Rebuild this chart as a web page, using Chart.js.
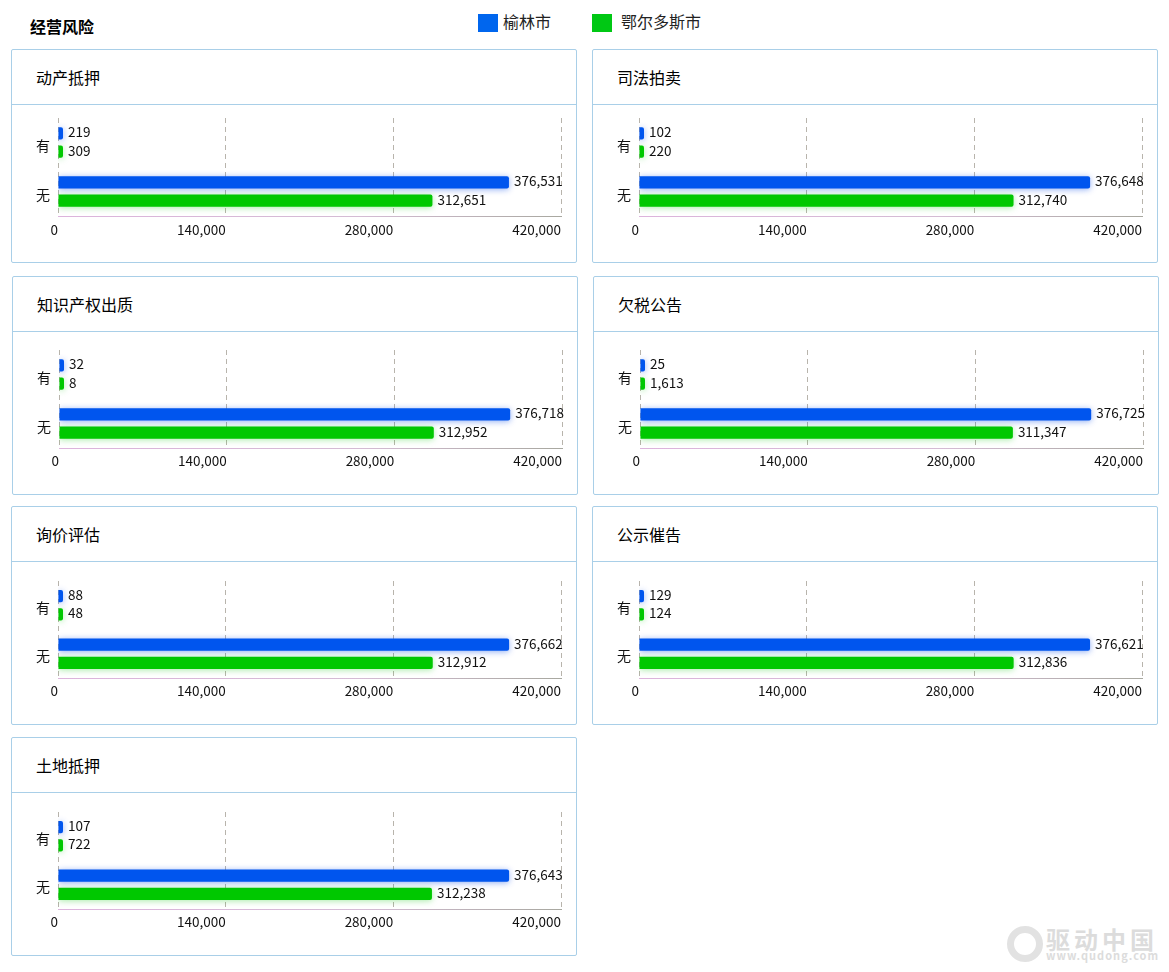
<!DOCTYPE html>
<html lang="zh">
<head>
<meta charset="utf-8">
<title>经营风险</title>
<script src="https://cdn.jsdelivr.net/npm/chart.js@4"></script>
<style>
    html, body { margin: 0; padding: 0; background: #fff; }
    body { width: 1169px; height: 972px; position: relative; overflow: hidden; color: #000;
           font-family: "Noto Sans CJK SC", "Noto Sans", sans-serif; }
    .page-title { position: absolute; left: 30px; top: 14px; font-size: 16px; line-height: 24px; font-weight: 700; }
    .legend-box { position: absolute; top: 14px; width: 20px; height: 18px; }
    .legend-text { position: absolute; top: 9px; font-size: 16px; line-height: 24px; color: #222; }
    .panel { position: absolute; box-sizing: border-box; width: 566px; border: 1px solid #a9cfe8; border-radius: 2px; }
    .panel-title { position: absolute; left: 24px; top: -1px; right: 0; font-size: 16px; line-height: 56px; }
    .panel-line { position: absolute; left: 0; right: 0; top: 54px; height: 1px; background: #a9cfe8; }
    .panel canvas { position: absolute; left: 0; top: 55px; }
    .mark { position: absolute; left: 1046px; top: 927px; color: #dcdcdc; }
    .mark b { display: block; font-size: 24px; line-height: 23px; letter-spacing: 4px; font-weight: 700; }
    .mark span { display: block; font-size: 11px; line-height: 11px; letter-spacing: 1px; font-weight: 700; }
    .mark-ring { position: absolute; left: 1007px; top: 926px; width: 22px; height: 22px; border: 7px solid #e2e2e2; border-radius: 50%; }
</style>
</head>
<body>
<div class="page-title">经营风险</div>
<div class="legend-box" style="left:478px;background:#0066ee"></div>
<div class="legend-text" style="left:503px">榆林市</div>
<div class="legend-box" style="left:592px;background:#00c814"></div>
<div class="legend-text" style="left:621px">鄂尔多斯市</div>
<div id="panels"></div>
<div class="mark-ring"></div>
<div class="mark"><b>驱动中国</b><span>www.qudong.com</span></div>

<script>
    const categories = ['有', '无'];
    const cityNames = ['榆林市', '鄂尔多斯市'];
    const barColors = ['#0055ee', '#00c800'];
    const shadowColors = ['rgba(0, 70, 230, 0.45)', 'rgba(0, 200, 0, 0.35)'];

    // x, y, h = panel box; plotTop / plotBottom = plot area measured from the canvas top
    const panels = [
        { title: '动产抵押', x: 11, y: 49, h: 214, plotTop: 13, plotBottom: 111, tickPad: 6, labelShift: 3, yulin: [219, 376531], ordos: [309, 312651] },
        { title: '司法拍卖', x: 592, y: 49, h: 214, plotTop: 13, plotBottom: 111, tickPad: 6, labelShift: 3, yulin: [102, 376648], ordos: [220, 312740] },
        { title: '知识产权出质', x: 12, y: 276, h: 219, plotTop: 18, plotBottom: 116, tickPad: 5, labelShift: 3, yulin: [32, 376718], ordos: [8, 312952] },
        { title: '欠税公告', x: 593, y: 276, h: 219, plotTop: 18, plotBottom: 116, tickPad: 5, labelShift: 3, yulin: [25, 376725], ordos: [1613, 311347] },
        { title: '询价评估', x: 11, y: 506, h: 219, plotTop: 19, plotBottom: 116, tickPad: 5, labelShift: 2, yulin: [88, 376662], ordos: [48, 312912] },
        { title: '公示催告', x: 592, y: 506, h: 219, plotTop: 19, plotBottom: 116, tickPad: 5, labelShift: 2, yulin: [129, 376621], ordos: [124, 312836] },
        { title: '土地抵押', x: 11, y: 737, h: 219, plotTop: 19, plotBottom: 116, tickPad: 5, labelShift: 2, yulin: [107, 376643], ordos: [722, 312238] }
    ];

    const fontFamily = '"Noto Sans CJK SC", "Noto Sans", sans-serif';

    // Soft glow under the bars
    const barShadow = {
        id: 'barShadow',
        beforeDatasetDraw(chart, args) {
            chart.ctx.save();
            chart.ctx.shadowColor = shadowColors[args.index];
            chart.ctx.shadowBlur = 6;
            chart.ctx.shadowOffsetY = 1;
        },
        afterDatasetDraw(chart) {
            chart.ctx.restore();
        }
    };

    // Value labels at the end of each bar
    const valueLabels = {
        id: 'valueLabels',
        afterDatasetsDraw(chart) {
            const ctx = chart.ctx;
            ctx.save();
            ctx.font = '13.5px ' + fontFamily;
            ctx.fillStyle = '#111';
            ctx.textAlign = 'left';
            ctx.textBaseline = 'middle';
            chart.data.datasets.forEach((dataset, i) => {
                chart.getDatasetMeta(i).data.forEach((bar, j) => {
                    ctx.fillText(dataset.data[j].toLocaleString('en-US'), bar.x + 5, bar.y - 1);
                });
            });
            ctx.restore();
        }
    };

    const container = document.getElementById('panels');

    panels.forEach(panel => {
        const box = document.createElement('div');
        box.className = 'panel';
        box.style.left = panel.x + 'px';
        box.style.top = panel.y + 'px';
        box.style.height = panel.h + 'px';
        box.innerHTML = '<div class="panel-title">' + panel.title + '</div><div class="panel-line"></div>';

        const canvas = document.createElement('canvas');
        const canvasHeight = panel.h - 57;
        canvas.style.width = '564px';
        canvas.style.height = canvasHeight + 'px';
        box.appendChild(canvas);
        container.appendChild(box);

        const ctx = canvas.getContext('2d');
        const axisLine = ctx.createLinearGradient(46, 0, 549, 0);
        axisLine.addColorStop(0, '#dcb4dc');
        axisLine.addColorStop(0.6, '#d4bcd4');
        axisLine.addColorStop(1, '#a8a8a0');

        new Chart(ctx, {
            type: 'bar',
            data: {
                labels: categories,
                datasets: [
                    { label: cityNames[0], data: panel.yulin, backgroundColor: barColors[0] },
                    { label: cityNames[1], data: panel.ordos, backgroundColor: barColors[1] }
                ]
            },
            options: {
                indexAxis: 'y',
                responsive: false,
                animation: false,
                devicePixelRatio: 1,
                layout: { padding: { top: panel.plotTop, right: 15, bottom: 0, left: 0 } },
                datasets: {
                    bar: { categoryPercentage: 0.75, barPercentage: 0.667, borderRadius: 2, minBarLength: 5 }
                },
                scales: {
                    x: {
                        min: 0,
                        max: 420000,
                        afterBuildTicks(scale) {
                            scale.ticks = [0, 140000, 280000, 420000].map(value => ({ value }));
                        },
                        afterFit(scale) { scale.height = canvasHeight - panel.plotBottom; },
                        // border.dash is applied to the grid lines, the axis line stays solid
                        border: { color: axisLine, width: 1, dash: [5, 4] },
                        grid: {
                            color: '#b8b4ac',
                            drawTicks: false,
                            lineWidth: 1
                        },
                        ticks: {
                            align: 'end',
                            maxRotation: 0,
                            padding: panel.tickPad,
                            color: '#111',
                            font: { family: fontFamily, size: 13.5 },
                            callback: value => value.toLocaleString('en-US')
                        }
                    },
                    y: {
                        // Without this the tick label height pushes the plot area down
                        afterFit(scale) {
                            scale.width = 46;
                            scale.paddingTop = 0;
                            scale.paddingBottom = 0;
                        },
                        border: { display: false },
                        grid: { display: false, drawTicks: false },
                        ticks: {
                            padding: 8,
                            labelOffset: panel.labelShift,
                            color: '#111',
                            font: { family: fontFamily, size: 14 }
                        }
                    }
                },
                plugins: {
                    legend: { display: false },
                    tooltip: { enabled: false }
                }
            },
            plugins: [barShadow, valueLabels]
        });
    });
</script>
</body>
</html>
